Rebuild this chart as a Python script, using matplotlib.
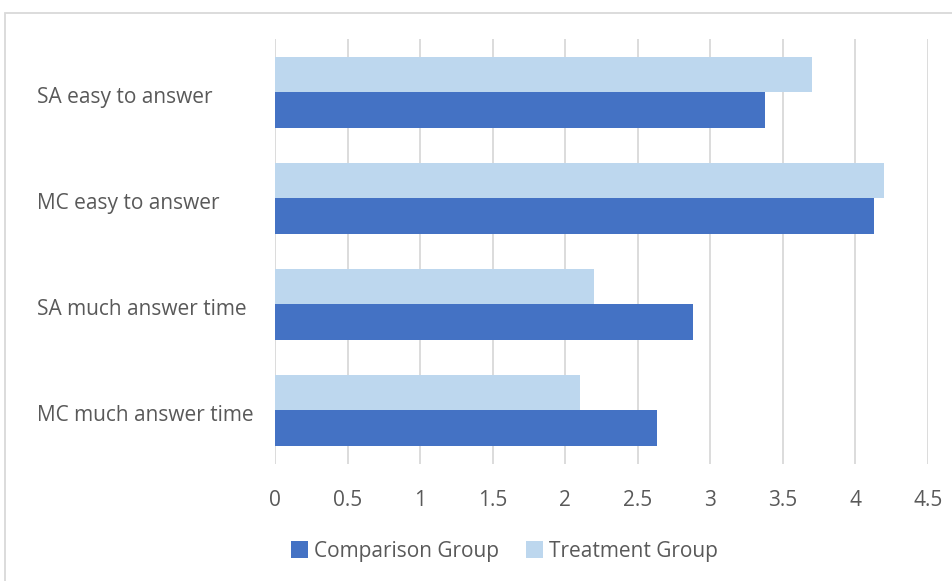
import matplotlib.pyplot as plt
import matplotlib.patches as patches
import matplotlib.transforms as mtransforms
import numpy as np

categories = ["SA easy to answer", "MC easy to answer", "SA much answer time", "MC much answer time"]
comparison = [3.38, 4.13, 2.88, 2.63]
treatment = [3.70, 4.20, 2.20, 2.10]
xticks = [0, 0.5, 1, 1.5, 2, 2.5, 3, 3.5, 4, 4.5]
xticklabels = ["0", "0.5", "1", "1.5", "2", "2.5", "3", "3.5", "4", "4.5"]

plt.rcParams['font.family'] = ['Open Sans', 'DejaVu Sans']
text_color = '#595959'
grid_color = '#d9d9d9'

fig = plt.figure(figsize=(9.53, 5.81), dpi=100)
ax = fig.add_axes([275/953, 1 - 463.5/581, (928 - 275)/953, (463.5 - 39.3)/581])

# top category drawn highest
y = np.arange(len(categories))[::-1]
h = 1/3
ax.barh(y - h/2, comparison, height=h, color='#4472C4', label='Comparison Group', zorder=3)
ax.barh(y + h/2, treatment, height=h, color='#BDD7EE', label='Treatment Group', zorder=3)

ax.set_xlim(0, 4.5)
ax.set_ylim(-0.5, len(categories) - 0.5)
ax.set_xticks(xticks)
ax.set_xticklabels(xticklabels)
ax.set_yticks(y)
ax.set_yticklabels(categories)
ax.grid(axis='x', color=grid_color, linewidth=1.3, zorder=0)
for s in ax.spines.values():
    s.set_visible(False)
ax.tick_params(axis='x', length=0, pad=19, labelsize=15, labelcolor=text_color)
ax.tick_params(axis='y', length=0, pad=171, labelsize=15, labelcolor=text_color)
# left-aligned category labels, nudged slightly down
shift = mtransforms.ScaledTranslation(0, -2/72, fig.dpi_scale_trans)
for lbl in ax.get_yticklabels():
    lbl.set_horizontalalignment('left')
    lbl.set_transform(lbl.get_transform() + shift)

fig.legend(loc='center', bbox_to_anchor=(0.529, 1 - 551/581), ncol=2, frameon=False,
           fontsize=15, labelcolor=text_color, handlelength=0.85, handleheight=0.87,
           handletextpad=0.25, columnspacing=1.3)

# light chart border
fig.patches.append(patches.Rectangle((5/953, -0.1), 1.2, 1 - 13/581 + 0.1,
                                     transform=fig.transFigure, fill=False,
                                     edgecolor=grid_color, linewidth=1.3))

fig.savefig('out.png', dpi=100)
